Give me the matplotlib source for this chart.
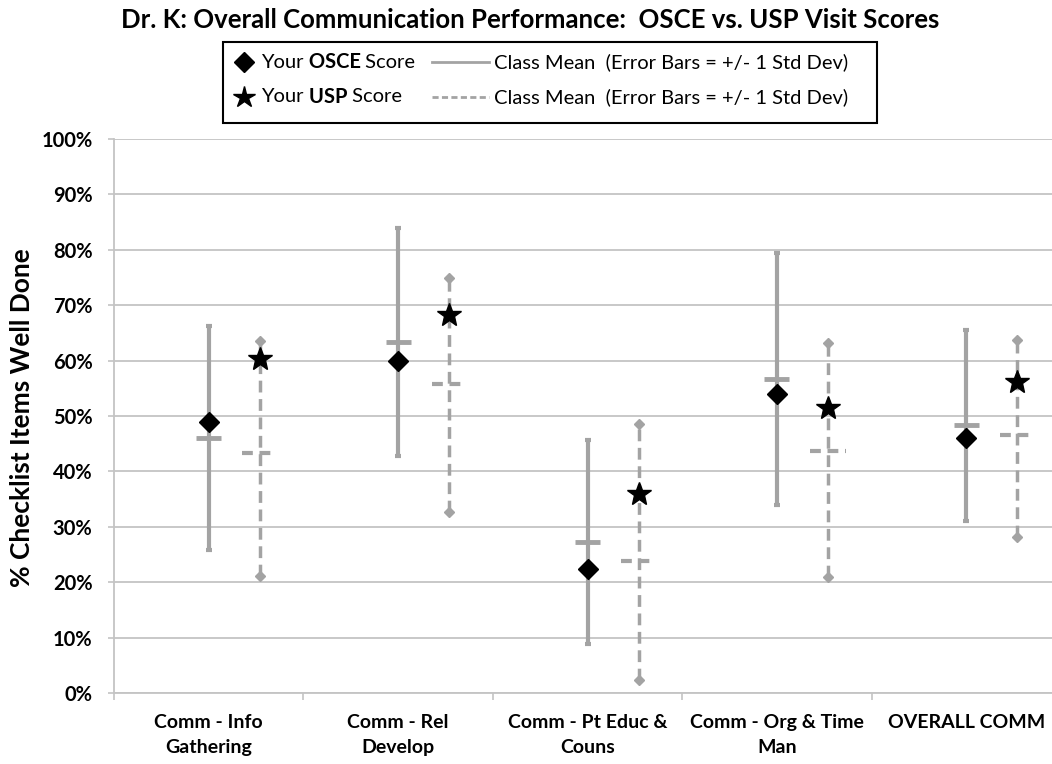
import matplotlib
matplotlib.use("Agg")
import matplotlib.pyplot as plt
import numpy as np
from matplotlib.lines import Line2D

plt.rcParams['font.family'] = ['Lato', 'DejaVu Sans']

# data (fractions of checklist items well done)
categories = ["Comm - Info\nGathering", "Comm - Rel\nDevelop", "Comm - Pt Educ &\nCouns",
              "Comm - Org & Time\nMan", "OVERALL COMM"]
osce_score = [0.489, 0.599, 0.223, 0.540, 0.460]
osce_mean = [0.460, 0.634, 0.272, 0.567, 0.483]
osce_std = [0.202, 0.206, 0.184, 0.228, 0.173]
usp_score = [0.603, 0.683, 0.360, 0.515, 0.561]
usp_mean = [0.434, 0.558, 0.239, 0.436, 0.466]
# ends of the dashed bars as drawn (not quite centred on the mean tick)
usp_low = [0.212, 0.326, 0.024, 0.209, 0.281]
usp_high = [0.636, 0.749, 0.485, 0.631, 0.638]

W, H = 1052, 764
GRAY = '#a3a3a3'
GRID = '#c4c4c4'

fig = plt.figure(figsize=(W / 100, H / 100), dpi=100)

def fx(px):
    return px / W

def fy(py):
    return 1 - py / H

# plot area in pixels: left 114, right ~1061, top 139, bottom 693
ax = fig.add_axes([fx(114), fy(693), fx(1061 - 114), (693 - 139) / H])

n = len(categories)
x = np.arange(n) + 0.5
dx = 0.27

# OSCE: solid error bars, solid mean tick, black diamond
ax.errorbar(x, osce_mean, yerr=osce_std, fmt='none', ecolor=GRAY,
            elinewidth=3, capsize=2, capthick=3, zorder=3)
ax.hlines(osce_mean, x - 0.066, x + 0.066, colors=GRAY, linewidth=3.5, zorder=3)
ax.plot(x, osce_score, 'D', color='black', markersize=10, zorder=5)

# USP: dashed error bars, dashed mean tick, gray diamond ends, black star
xu = x + dx
usp_m = np.array(usp_mean)
yerr = [usp_m - np.array(usp_low), np.array(usp_high) - usp_m]
eb2 = ax.errorbar(xu, usp_mean, yerr=yerr, fmt='none', ecolor=GRAY,
                  elinewidth=2.5, zorder=3)
eb2[2][0].set_linestyle((0, (3.4, 1.9)))
ax.hlines(usp_mean, xu - 0.093, xu + 0.093, colors=GRAY, linewidth=3,
          linestyles=[(0, (2.6, 1.6))], zorder=3)
ax.plot(xu, usp_low, 'D', color=GRAY, markersize=5, zorder=4)
ax.plot(xu, usp_high, 'D', color=GRAY, markersize=5, zorder=4)
ax.plot(xu, usp_score, '*', color='black', markersize=18, zorder=5)

ax.set_xlim(0, n)
ax.set_ylim(0, 1)
ax.set_yticks(np.arange(0, 1.01, 0.1))
ax.set_yticklabels(['%d%%' % round(v * 100) for v in np.arange(0, 1.01, 0.1)],
                   fontsize=14.5, fontweight='bold')
ax.yaxis.grid(True, color=GRID, linewidth=1.3)
ax.set_axisbelow(True)
ax.tick_params(axis='y', length=4.5, width=1.2, color=GRID, pad=11)

ax.set_xticks(np.arange(0, n + 1))
ax.set_xticklabels([])
ax.set_xticks(x, minor=True)
ax.set_xticklabels(categories, minor=True, fontsize=14, fontweight='bold',
                   linespacing=1.55)
ax.tick_params(axis='x', which='major', length=5, width=1.2, color=GRID)
ax.tick_params(axis='x', which='minor', length=0, pad=15)

for s in ['top', 'right']:
    ax.spines[s].set_visible(False)
for s in ['left', 'bottom']:
    ax.spines[s].set_color(GRID)
    ax.spines[s].set_linewidth(1.3)

fig.text(fx(530), fy(20), "Dr. K: Overall Communication Performance:  OSCE vs. USP Visit Scores",
         ha='center', va='center', fontsize=18.5, fontweight='bold')

fig.text(fx(22), fy(418), "% Checklist Items Well Done", rotation=90,
         ha='center', va='center', fontsize=19, fontweight='bold')

# legend box drawn by hand
box = plt.Rectangle((fx(223), fy(123)), fx(877 - 223), (123 - 42) / H,
                    transform=fig.transFigure, fill=False, edgecolor='black',
                    linewidth=1.5)
fig.add_artist(box)

renderer = fig.canvas.get_renderer()

def write_parts(x0, y0, parts, size=14.5):
    xp = x0
    for txt, weight in parts:
        t = fig.text(fx(xp), fy(y0), txt, ha='left', va='center',
                     fontsize=size, fontweight=weight)
        bb = t.get_window_extent(renderer)
        xp += bb.width

rows = [(62, 'D', 10, "OSCE", '-'), (97, '*', 16, "USP", (0, (2.2, 1.2)))]
for yrow, mk, ms, name, ls in rows:
    fig.add_artist(Line2D([fx(244)], [fy(yrow)], marker=mk, color='black',
                          markersize=ms, transform=fig.transFigure))
    write_parts(261, yrow, [("Your", 'normal'), (" " + name, 'bold'), (" Score", 'normal')])
    fig.add_artist(Line2D([fx(432), fx(489)], [fy(yrow), fy(yrow)], color=GRAY,
                          linewidth=2, linestyle=ls, transform=fig.transFigure))
    fig.text(fx(494), fy(yrow), "Class Mean  (Error Bars = +/- 1 Std Dev)",
             ha='left', va='center', fontsize=14.5)

fig.savefig("out.png", dpi=100)
